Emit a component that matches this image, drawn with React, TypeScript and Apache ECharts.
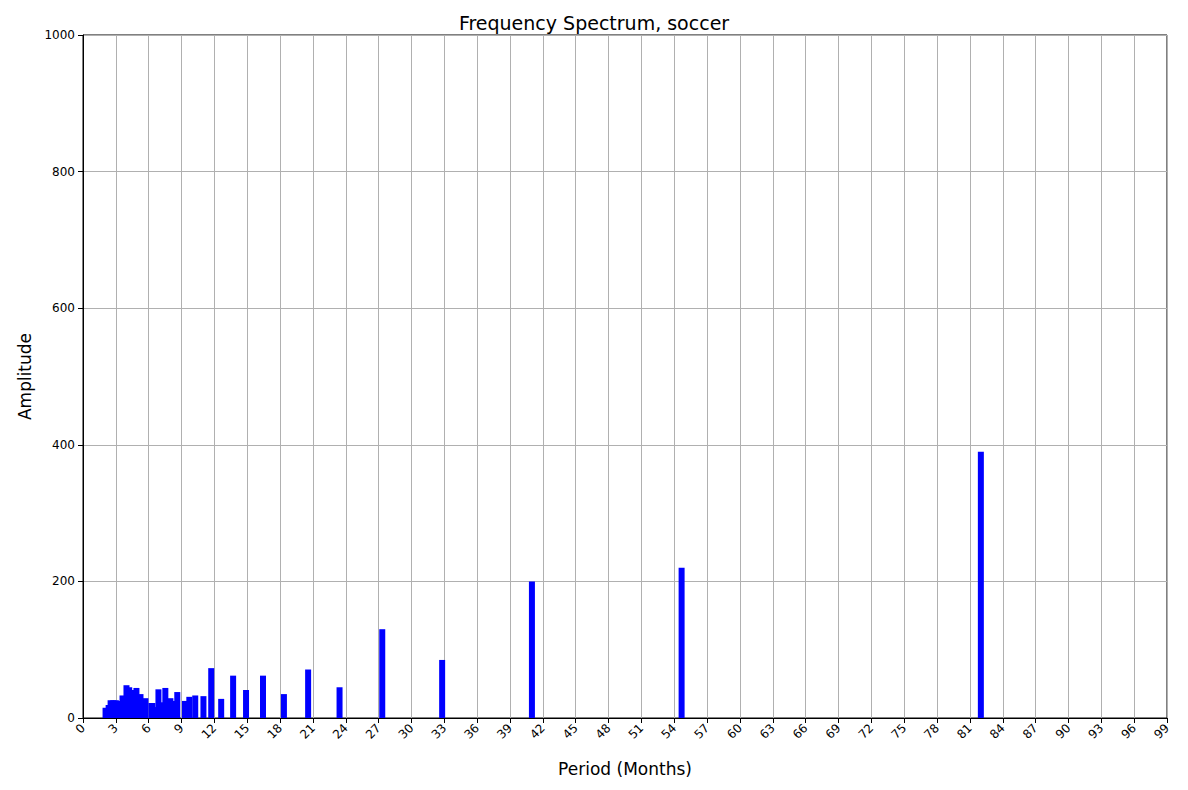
import React, { useEffect, useRef } from "react";
import * as echarts from "echarts";

const periods = [
  2.06, 2.34, 2.52, 2.76, 3.0, 3.37, 3.61, 3.97, 4.22, 4.4, 4.67, 4.88, 5.25, 5.55, 5.7,
  6.25, 6.34, 6.76, 6.89, 7.31, 7.52, 7.98, 8.31, 8.61, 9.31, 9.71, 10.25, 11.0, 11.71,
  12.62, 13.71, 14.89, 16.44, 18.35, 20.56, 23.43, 27.33, 32.8, 41, 54.67, 82,
];
const amplitudes = [
  15, 19, 26, 26, 26, 25, 33, 48, 45, 22, 41, 44, 35, 22, 29,
  22, 22, 16, 42, 23, 44, 29, 25, 38, 25, 31, 33, 32, 73,
  28, 62, 41, 62, 35, 71, 45, 130, 85, 200, 220, 390,
];

const font = "DejaVu Sans";

const App: React.FC = () => {
  const chartRef = useRef<HTMLDivElement>(null);

  useEffect(() => {
    const chart = echarts.init(chartRef.current, null, { renderer: "svg" });
    chart.setOption({
      animation: false,
      textStyle: { fontFamily: font },
      title: {
        text: "Frequency Spectrum, soccer",
        left: "center",
        top: 0,
        textStyle: { fontFamily: font, fontSize: 19, fontWeight: "normal", color: "#000" },
      },
      grid: { left: 71, right: 13, top: 27, bottom: 59, show: true, borderColor: "#000", borderWidth: 1 },
      xAxis: {
        type: "value",
        min: 0,
        max: 99,
        interval: 3,
        name: "Period (Months)",
        nameLocation: "middle",
        nameGap: 42,
        nameTextStyle: { fontSize: 17, color: "#000" },
        axisLine: { lineStyle: { color: "#000" } },
        axisTick: { show: true, lineStyle: { color: "#000" } },
        axisLabel: { rotate: 45, color: "#000", fontSize: 12 },
        splitLine: { show: true, lineStyle: { color: "#b0b0b0" } },
      },
      yAxis: {
        type: "value",
        min: 0,
        max: 1000,
        interval: 200,
        name: "Amplitude",
        nameLocation: "middle",
        nameGap: 50,
        nameTextStyle: { fontSize: 17, color: "#000" },
        axisLine: { show: true, lineStyle: { color: "#000" } },
        axisTick: { show: true, lineStyle: { color: "#000" } },
        axisLabel: { color: "#000", fontSize: 12, formatter: (v: number) => String(v) },
        splitLine: { show: true, lineStyle: { color: "#b0b0b0" } },
      },
      series: [
        {
          type: "bar",
          data: periods.map((p, i) => [p, amplitudes[i]]),
          barWidth: 6,
          barGap: "-100%",
          itemStyle: { color: "#0000ff" },
        },
      ],
    });
    return () => {
      chart.dispose();
    };
  }, []);

  return <div ref={chartRef} style={{ width: 1172, height: 774 }}></div>;
};

export default App;
